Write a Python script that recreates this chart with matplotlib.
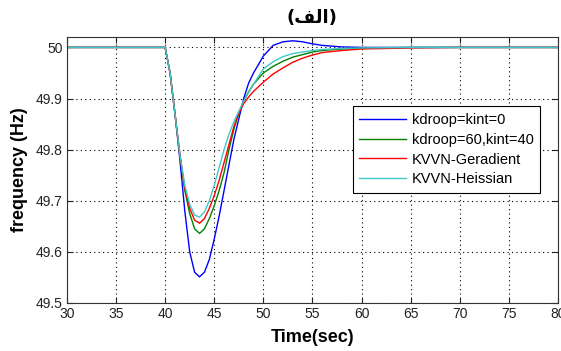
import numpy as np
import matplotlib
matplotlib.use('Agg')
import matplotlib.pyplot as plt

plt.rcParams['font.family'] = ['Liberation Sans', 'DejaVu Sans']

# data
t = [30, 40, 40.5, 41, 41.5, 42, 42.5, 43, 43.5, 44, 44.5, 45, 45.5, 46, 46.5,
     47, 47.5, 48, 48.5, 49, 50, 51, 52, 53, 54, 55, 56, 58, 60, 65, 70, 80]

f_blue = [50.0, 50.0, 49.95, 49.87, 49.78, 49.68, 49.6, 49.56, 49.551, 49.56, 49.585,
          49.625, 49.67, 49.72, 49.77, 49.82, 49.86, 49.9, 49.93, 49.95, 49.983, 50.004,
          50.011, 50.013, 50.011, 50.007, 50.004, 50.001, 50.0, 50.0, 50.0, 50.0]
f_green = [50.0, 50.0, 49.95, 49.87, 49.79, 49.72, 49.675, 49.645, 49.636, 49.645, 49.665,
           49.69, 49.72, 49.755, 49.8, 49.84, 49.872, 49.895, 49.913, 49.928, 49.95, 49.963,
           49.973, 49.981, 49.986, 49.991, 49.994, 49.997, 49.998, 50.0, 50.0, 50.0]
f_red = [50.0, 50.0, 49.95, 49.87, 49.79, 49.725, 49.685, 49.662, 49.656, 49.665, 49.685,
         49.71, 49.74, 49.775, 49.81, 49.845, 49.872, 49.89, 49.903, 49.914, 49.932, 49.948,
         49.96, 49.971, 49.979, 49.985, 49.99, 49.994, 49.997, 49.999, 50.0, 50.0]
f_cyan = [50.0, 50.0, 49.95, 49.87, 49.79, 49.73, 49.693, 49.672, 49.668, 49.678, 49.7,
          49.73, 49.765, 49.8, 49.83, 49.855, 49.875, 49.895, 49.912, 49.928, 49.958, 49.972,
          49.982, 49.988, 49.991, 49.994, 49.996, 49.998, 49.999, 50.0, 50.0, 50.0]

names = ['kdroop=kint=0', 'kdroop=60,kint=40', 'KVVN-Geradient', 'KVVN-Heissian']
colors = ['#0000ff', '#008000', '#ff0000', '#40c8c8']

xticks = np.arange(30, 81, 5)
yticks = [49.5, 49.6, 49.7, 49.8, 49.9, 50.0]
ylabels = ['49.5', '49.6', '49.7', '49.8', '49.9', '50']

fig = plt.figure(figsize=(5.61, 3.51), dpi=100)
ax = fig.add_axes([0.1194, 0.137, 0.875, 0.757])

for y, c, n in zip([f_blue, f_green, f_red, f_cyan], colors, names):
    ax.plot(t, y, color=c, lw=1.0, label=n)

ax.set_xlim(30, 80)
ax.set_ylim(49.5, 50.02)
ax.set_xticks(xticks)
ax.set_yticks(yticks)
ax.set_yticklabels(ylabels)
ax.tick_params(direction='in', length=4, width=0.8, top=True, right=True,
               labelsize=10, colors='#222222', pad=3)
ax.grid(True, linestyle=(0, (1, 3)), color='black', lw=0.8)
for s in ax.spines.values():
    s.set_color('#333333')
    s.set_linewidth(0.8)

ax.set_xlabel('Time(sec)', fontsize=13, fontweight='bold', labelpad=6)
ax.set_ylabel('frequency (Hz)', fontsize=13, fontweight='bold', labelpad=6)
# Arabic title written with presentation forms in visual order
ax.set_title('(\uFED2\uFEDF\uFE8D)', fontsize=13, fontweight='bold',
             family=['DejaVu Sans'], pad=10)

leg = ax.legend(loc='upper left', bbox_to_anchor=(0.582, 0.74), fontsize=10.5,
                frameon=True, fancybox=False, framealpha=1, edgecolor='black',
                handlelength=3.2, handletextpad=0.4, borderpad=0.45, labelspacing=0.4,
                borderaxespad=0)
leg.get_frame().set_linewidth(0.8)

fig.savefig('out.png', dpi=100)
